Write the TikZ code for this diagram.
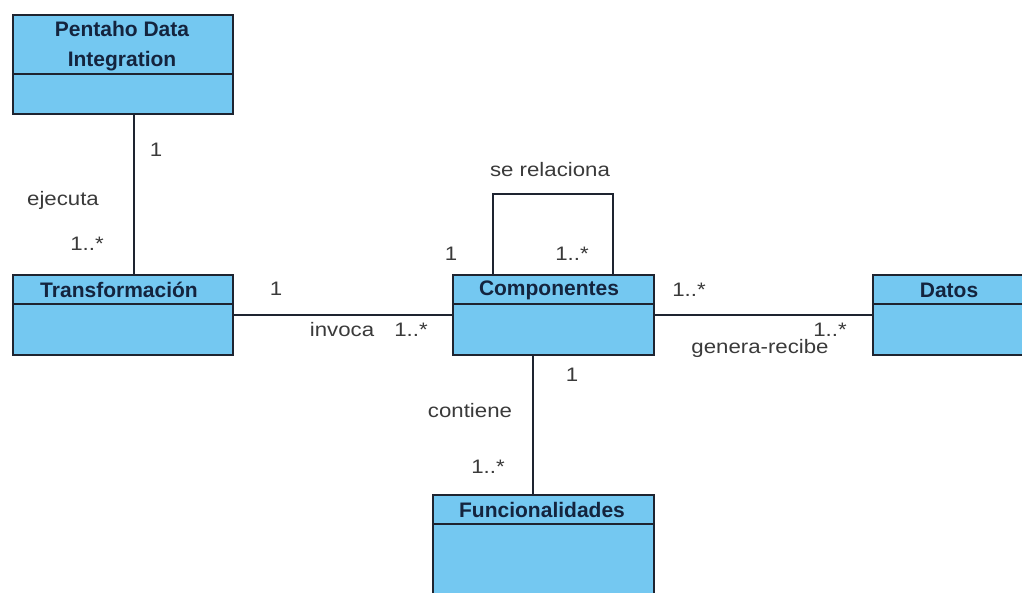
\documentclass[tikz,border=0pt]{standalone}
\usepackage{fontspec}
\setmainfont[FakeStretch=1.14]{Liberation Sans}
\newfontfamily\titlefont{Liberation Sans}
\definecolor{classfill}{HTML}{74C8F1}
\definecolor{classline}{HTML}{1E2430}
\definecolor{titlecol}{HTML}{14243E}
\definecolor{labelcol}{HTML}{3A3A3A}
\tikzset{
  classbox/.style={draw=classline, line width=1.8pt, fill=classfill, rectangle, anchor=north west, inner sep=0pt},
  classtitle/.style={font=\titlefont\bfseries\fontsize{21}{30}\selectfont, text=titlecol, align=center, inner sep=0pt},
  assoc/.style={draw=classline, line width=1.8pt},
  lbl/.style={font=\fontsize{19.5}{22}\selectfont, text=labelcol, anchor=base, inner sep=0pt},
}
\begin{document}
\begin{tikzpicture}[x=1pt,y=-1pt]
\useasboundingbox (0,0) rectangle (1022,593);
\clip (0,0) rectangle (1022,593);
\fill[white] (0,0) rectangle (1022,593);

% classes
\node[classbox, minimum width=220pt, minimum height=99pt] (pdi) at (12,14) {};
\node[classbox, minimum width=220pt, minimum height=80pt] (transf) at (12,274) {};
\node[classbox, minimum width=201pt, minimum height=80pt] (comp) at (452,274) {};
\node[classbox, minimum width=154pt, minimum height=80pt] (datos) at (872,274) {};
\node[classbox, minimum width=221pt, minimum height=110pt] (func) at (432,494) {};

% compartment separators
\draw[assoc] (pdi.west |- 0,74) -- (pdi.east |- 0,74);
\draw[assoc] (transf.west |- 0,304) -- (transf.east |- 0,304);
\draw[assoc] (comp.west |- 0,304) -- (comp.east |- 0,304);
\draw[assoc] (datos.west |- 0,304) -- (datos.east |- 0,304);
\draw[assoc] (func.west |- 0,524) -- (func.east |- 0,524);

% class names
\node[classtitle] (tpdi) at (122,46) {Pentaho Data\\Integration};
\node[classtitle] (ttransf) at (119,290) {Transformación};
\node[classtitle] (tcomp) at (549,290) {Componentes};
\node[classtitle] (tdatos) at (949,290) {Datos};
\node[classtitle] (tfunc) at (542,510) {Funcionalidades};

% associations
\draw[assoc] ([xshift=11pt]pdi.south) -- ([xshift=11pt]transf.north);
\draw[assoc] (transf.east) -- (comp.west |- transf.east);
\draw[assoc] (comp.east) -- (datos.west |- comp.east);
\draw[assoc] ([xshift=-20.5pt]comp.south) -- ([xshift=-10.5pt]func.north);
\coordinate (loopL) at ([xshift=-60.5pt,yshift=80pt]comp.north);
\coordinate (loopR) at ([xshift=59.5pt,yshift=80pt]comp.north);
\draw[assoc] ([xshift=-60.5pt]comp.north) -- (loopL) -- (loopR) -- ([xshift=59.5pt]comp.north);

% role names and multiplicities
\node[lbl] (m1) at (156,157) {1};
\node[lbl] (n1) at (63,206) {ejecuta};
\node[lbl] (m2) at (87,251) {1..*};
\node[lbl] (m3) at (276,296) {1};
\node[lbl] (n2) at (342,337) {invoca};
\node[lbl] (m4) at (411,337) {1..*};
\node[lbl] (m5) at (451,261) {1};
\node[lbl] (m6) at (572,261) {1..*};
\node[lbl] (n3) at (550,177) {se relaciona};
\node[lbl] (m7) at (689,297) {1..*};
\node[lbl] (m8) at (830,337) {1..*};
\node[lbl] (n4) at (760,353) {genera-recibe};
\node[lbl] (m9) at (572,381) {1};
\node[lbl] (n5) at (470,417) {contiene};
\node[lbl] (m10) at (488,473) {1..*};
\end{tikzpicture}
\end{document}
